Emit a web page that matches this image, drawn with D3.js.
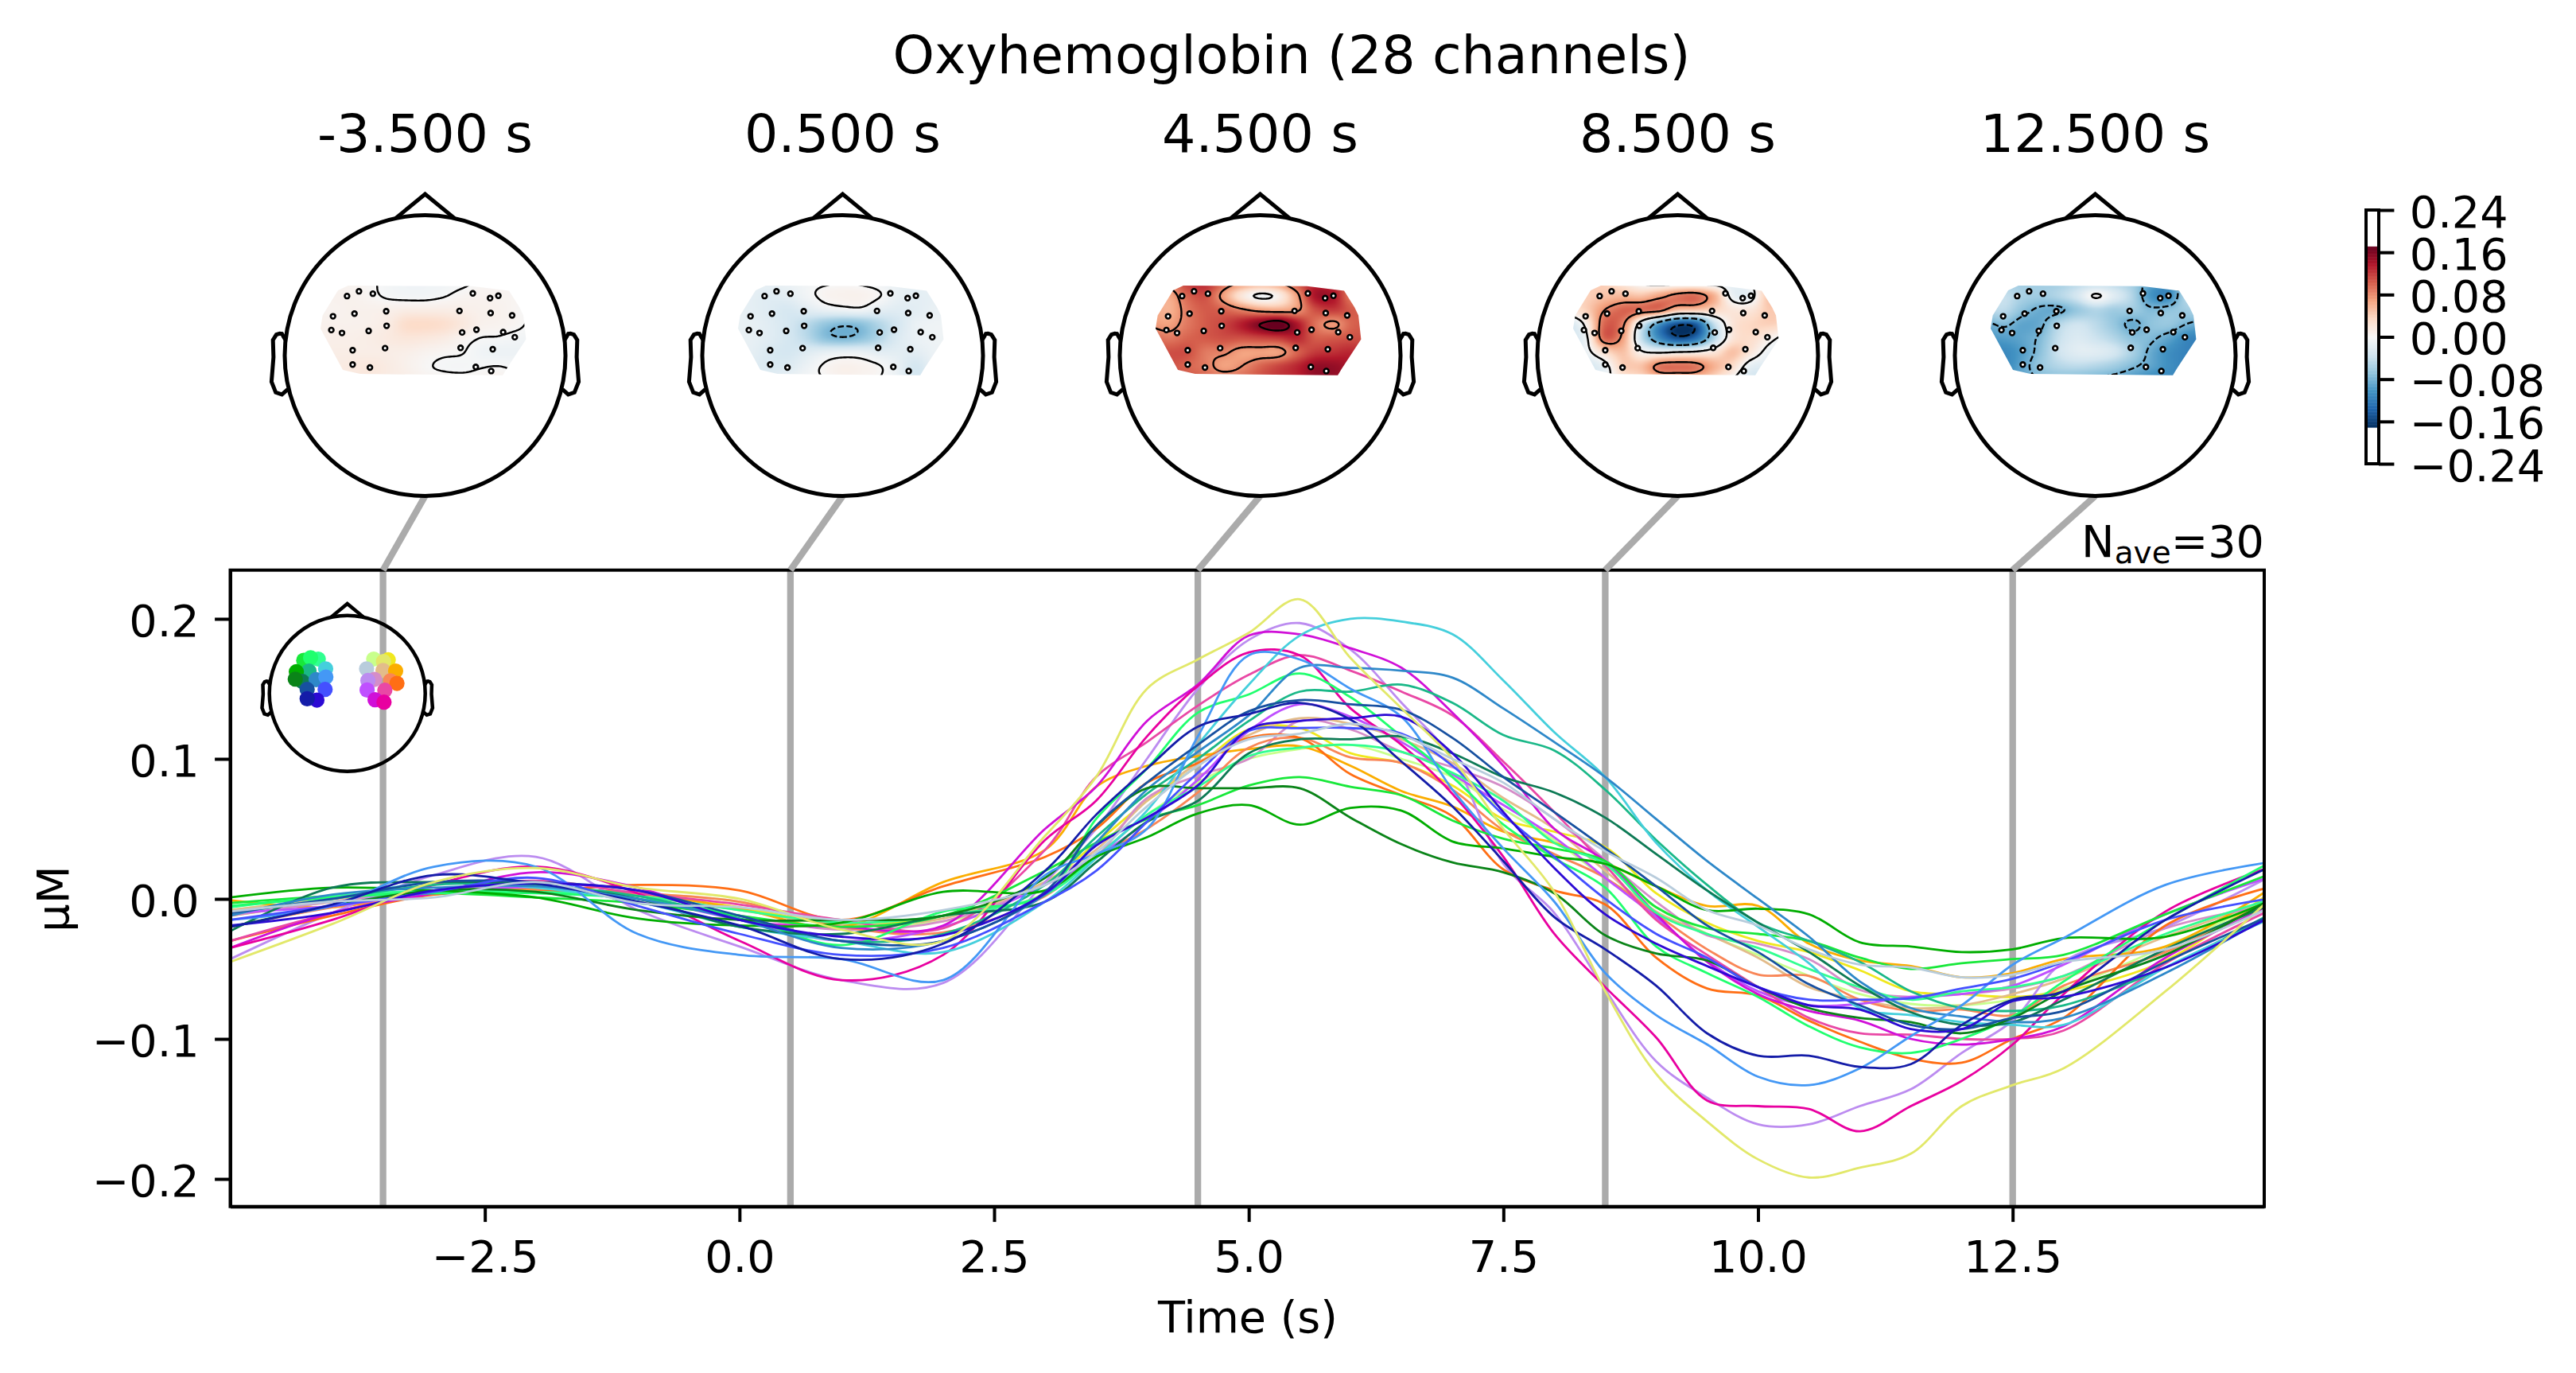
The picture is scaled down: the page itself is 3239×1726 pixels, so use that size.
<!DOCTYPE html>
<html lang="en">
<head>
    <meta charset="UTF-8">
    <title>Oxyhemoglobin (28 channels)</title>
    <script src="https://d3js.org/d3.v7.min.js"></script>
    <style>
        body { margin: 0; background: #fff; }
        text { font-family: "DejaVu Sans"; fill: #000; }
        .tick line, .domain { stroke: #000; stroke-width: 4px; }
    </style>
</head>
<body>
    <script>
        // Sample times of the butterfly traces (s)
        const times = [-5,-4,-3,-2,-1,0,1,2,3,3.5,4,4.5,5,5.5,6,6.5,7,7.5,8,8.5,9,9.5,10,10.5,11,11.5,12,12.5,13,14,15];

        // One array per channel (uM)
        const lightGreen = [-.008,0,.005,.006,.004,-.002,-.018,-.016,.004,.03,.06,.083,.10,.107,.11,.10,.087,.064,.042,.015,-.006,-.025,-.04,-.055,-.068,-.075,-.076,-.072,-.064,-.034,-.002];
        const yellow = [-.012,-.002,.006,.007,.003,-.006,-.018,-.012,.012,.04,.07,.095,.121,.122,.104,.097,.081,.057,.048,.037,.004,-.017,-.03,-.038,-.051,-.066,-.068,-.07,-.066,-.044,.003];
        const khaki = [-.045,-.018,.012,.022,.008,0,-.022,-.03,.045,.087,.15,.171,.19,.214,.172,.136,.10,.05,.005,-.066,-.125,-.159,-.186,-.199,-.192,-.182,-.148,-.133,-.121,-.066,-.002];
        const grayBlue = [-.009,-.002,.001,.012,-.003,-.006,-.015,-.008,.01,.033,.066,.095,.114,.118,.125,.117,.10,.083,.057,.034,.015,-.008,-.019,-.036,-.047,-.049,-.056,-.054,-.045,-.036,-.007];
        const tan = [-.008,0,.006,.008,.002,-.008,-.018,-.014,.012,.035,.07,.097,.117,.129,.125,.114,.097,.072,.05,.02,-.009,-.025,-.042,-.063,-.072,-.078,-.076,-.068,-.057,-.027,-.002];
        const orange = [-.001,-.006,.005,.007,.004,-.007,-.02,.012,.035,.08,.095,.102,.107,.109,.095,.077,.066,.048,.04,.026,.009,-.005,-.005,-.032,-.044,-.048,-.056,-.053,-.043,-.034,.006];
        const purplePink = [-.012,-.002,.006,.009,-.002,-.012,-.022,-.016,.01,.03,.072,.088,.10,.127,.121,.105,.094,.08,.057,.028,-.002,-.026,-.032,-.043,-.065,-.07,-.068,-.064,-.055,-.021,-.005];
        const salmon = [-.02,-.006,.004,.006,.004,-.002,-.02,-.024,.002,.03,.05,.076,.108,.115,.101,.097,.078,.049,.032,.015,-.011,-.036,-.054,-.055,-.072,-.08,-.079,-.083,-.062,-.038,-.002];
        const lavender = [-.043,-.01,.017,.03,-.008,-.034,-.058,-.06,.012,.05,.10,.15,.185,.197,.178,.14,.10,.025,-.01,-.065,-.116,-.142,-.161,-.161,-.148,-.136,-.11,-.087,-.045,-.02,.015];
        const orangeRed = [-.03,-.012,.003,.005,.01,.006,-.015,.009,.03,.05,.083,.097,.115,.115,.089,.074,.059,.021,.006,-.004,-.042,-.064,-.069,-.087,-.102,-.114,-.117,-.1,-.085,-.019,.008];
        const violet = [-.01,-.005,.004,.008,0,-.015,-.03,-.02,.01,.03,.055,.085,.12,.139,.13,.112,.089,.067,.044,.015,-.013,-.044,-.066,-.076,-.075,-.07,-.068,-.062,-.047,-.011,.015];
        const pink = [-.03,-.01,.005,.013,.004,-.004,-.015,-.021,.035,.087,.112,.138,.16,.174,.163,.148,.131,.098,.062,.024,-.015,-.04,-.063,-.085,-.096,-.097,-.1,-.1,-.094,-.046,-.009];
        const magenta = [-.035,-.01,.004,.019,.008,-.015,-.02,-.019,.05,.08,.127,.153,.188,.189,.179,.165,.133,.095,.05,.027,-.011,-.045,-.068,-.08,-.087,-.1,-.104,-.1,-.091,-.042,-.006];
        const hotPink = [-.035,-.015,.01,.023,.004,-.03,-.058,-.04,.042,.07,.116,.152,.176,.174,.136,.11,.075,.03,-.025,-.063,-.099,-.144,-.148,-.15,-.166,-.148,-.13,-.104,-.068,-.009,.022];
        const green = [-.003,.002,.004,.001,-.003,-.012,-.02,-.012,.02,.04,.057,.067,.081,.087,.08,.074,.056,.043,.036,.027,-.006,-.021,-.025,-.03,-.042,-.05,-.046,-.043,-.04,-.011,.017];
        const springGreen = [-.006,.002,.006,.005,.002,-.008,-.017,-.012,.003,.03,.06,.08,.102,.108,.11,.105,.09,.07,.04,.025,-.01,-.025,-.035,-.05,-.063,-.072,-.066,-.063,-.055,-.025,-.001];
        const brightGreen = [-.005,.001,.004,.004,0,-.012,-.033,-.009,.003,.057,.093,.133,.146,.161,.144,.116,.087,.053,.029,.008,-.034,-.053,-.07,-.091,-.106,-.11,-.10,-.084,-.059,-.015,.025];
        const teal = [-.01,0,.01,.01,.002,-.014,-.03,-.025,.01,.044,.075,.10,.127,.148,.148,.153,.14,.117,.106,.078,.042,.01,-.017,-.03,-.045,-.066,-.078,-.08,-.076,-.049,-.012];
        const cyan = [-.01,0,.012,.008,-.002,-.02,-.03,-.038,-.002,.029,.063,.11,.153,.188,.2,.198,.189,.156,.119,.087,.04,.006,-.02,-.046,-.078,-.083,-.088,-.09,-.09,-.049,-.015];
        const greenDark = [.001,.008,.006,.001,-.014,-.019,-.017,.005,.006,.03,.044,.061,.067,.053,.065,.063,.041,.036,.03,.025,.009,-.008,-.007,-.011,-.031,-.034,-.038,-.036,-.028,-.027,-.002];
        const darkTeal = [-.023,.008,.012,.01,0,-.02,-.025,-.012,-.002,.026,.055,.07,.104,.114,.114,.116,.104,.087,.076,.058,.032,.006,-.017,-.038,-.062,-.081,-.09,-.088,-.072,-.036,-.005];
        const blue = [-.012,.003,.008,.009,0,-.015,-.035,-.03,.003,.04,.078,.105,.131,.165,.165,.163,.158,.136,.112,.087,.057,.027,0,-.027,-.059,-.078,-.084,-.088,-.085,-.053,-.013];
        const darkGreen = [-.02,-.005,.006,.005,-.008,-.015,-.015,-.012,.015,.052,.079,.079,.079,.079,.058,.039,.026,.019,.004,-.026,-.039,-.044,-.063,-.078,-.085,-.088,-.096,-.085,-.066,-.04,-.002];
        const skyBlue = [-.015,-.005,.023,.023,-.025,-.04,-.043,-.058,.017,.032,.05,.116,.174,.171,.15,.13,.078,.036,-.002,-.053,-.083,-.104,-.127,-.133,-.121,-.098,-.076,-.047,-.028,.01,.026];
        const navy = [-.01,0,.012,.012,.006,-.012,-.03,-.03,.005,.052,.083,.11,.134,.142,.139,.135,.115,.087,.062,.036,.009,-.019,-.038,-.061,-.076,-.09,-.093,-.085,-.08,-.045,-.013];
        const blueViolet = [-.015,-.005,.005,.015,-.005,-.025,-.04,-.035,-.002,.02,.055,.09,.12,.122,.122,.118,.095,.06,.03,0,-.025,-.042,-.063,-.072,-.072,-.071,-.064,-.057,-.045,-.015,0];
        const indigo = [-.019,-.01,.006,.011,.006,-.015,-.027,-.026,.004,.038,.058,.081,.121,.127,.129,.13,.104,.062,.022,-.011,-.032,-.048,-.063,-.076,-.079,-.093,-.093,-.073,-.07,-.049,-.014];
        const darkBlue = [-.02,-.004,.017,.011,-.002,-.019,-.043,-.032,.02,.06,.093,.123,.132,.14,.128,.098,.066,.027,-.013,-.036,-.062,-.096,-.112,-.112,-.12,-.118,-.09,-.072,-.066,-.015,.022];

        const series = [lightGreen, yellow, khaki, grayBlue, tan, orange, purplePink, salmon, lavender, orangeRed, violet, pink, magenta, hotPink,
            green, springGreen, brightGreen, teal, cyan, greenDark, darkTeal, blue, darkGreen, skyBlue, navy, blueViolet, indigo, darkBlue];
        const seriesColors = ["#c8ff8c", "#f0e81e", "#e2e86a", "#b8ccdc", "#e3bc8a", "#fbad00", "#d58dc8", "#f98657", "#bc8cf0", "#ff6e14", "#bf50ff", "#e948a5", "#d010d8", "#e800a0",
            "#18e83a", "#30ff90", "#20ff6e", "#1ab888", "#45cfdc", "#00ad00", "#0d7a55", "#2e88c9", "#0a8418", "#4498f5", "#1750a0", "#4450ff", "#2c0ad4", "#141ca8"];

        // Channel positions on the small colour key head (head radius = 1), same order as series
        const keyX = [.339,.525,.464,.247,.458,.620,.349,.553,.264,.637,.254,.481,.356,.471,-.559,-.373,-.471,-.492,-.278,-.654,-.576,-.4,-.668,-.275,-.515,-.285,-.39,-.515];
        const keyY = [.441,.431,.410,.315,.295,.288,.180,.163,.166,.129,.044,.041,-.081,-.112,.424,.441,.458,.288,.315,.278,.153,.176,.183,.210,.051,.051,-.085,-.068];

        // Topomaps
        const topoTimes = [-3.5, 0.5, 4.5, 8.5, 12.5];
        const topoLabels = ["-3.500 s", "0.500 s", "4.500 s", "8.500 s", "12.500 s"];
        const sensorX = [-.556,-.471,-.372,-.656,-.503,-.277,-.668,-.592,-.402,-.274,-.516,-.285,-.516,-.393,.340,.463,.522,.245,.467,.620,.264,.366,.556,.639,.253,.482,.361,.471];
        const sensorY = [.424,.458,.441,.280,.299,.316,.182,.161,.176,.212,.038,.053,-.064,-.085,.443,.409,.426,.318,.303,.286,.165,.184,.167,.131,.055,.045,-.081,-.110];
        const hullX = [-.62,-.547,.333,.598,.673,.70,.719,.582,.553,-.463,-.586,-.745,-.730];
        const hullY = [.464,.498,.494,.462,.343,.286,.116,-.092,-.14,-.131,-.102,.192,.286];

        // Field values at a coarse grid over the sensor area (uM), one row per gridY
        const gridX = [-.78,-.65,-.52,-.39,-.26,-.13,0,.13,.26,.39,.52,.65,.78];
        const gridY = [.525,.425,.325,.225,.125,.025,-.075,-.175];
        const fieldA = [
            [.004,.004,.004,.002,-.004,-.007,-.007,-.006,-.003,.002,.004,.004,.004],
            [.007,.007,.007,.003,-.002,-.004,-.004,-.001,.004,.006,.005,.004,.003],
            [.006,.006,.008,.008,.009,.012,.012,.012,.010,.008,.007,.003,-.002],
            [.008,.008,.008,.009,.014,.03,.032,.028,.018,.008,.006,.003,-.003],
            [.008,.01,.01,.012,.016,.02,.018,.014,.006,0,-.001,-.004,-.006],
            [.01,.012,.012,.012,.012,.01,.006,.003,.001,-.006,-.009,-.009,-.009],
            [.01,.014,.016,.018,.014,.008,.002,-.002,-.003,-.001,0,-.002,-.002],
            [.016,.018,.016,.018,.014,.012,.006,.005,.004,.004,.006,.002,.002]
        ];
        const fieldB = [
            [-.012,-.012,-.012,-.01,-.005,-.002,0,-.002,-.006,-.012,-.015,-.012,-.012],
            [-.014,-.016,-.02,-.016,-.006,.004,.007,.007,.001,-.012,-.016,-.015,-.012],
            [-.012,-.016,-.022,-.028,-.02,-.012,-.008,-.006,-.016,-.02,-.018,-.012,-.012],
            [-.012,-.014,-.02,-.03,-.045,-.065,-.075,-.07,-.05,-.03,-.012,-.008,-.008],
            [-.012,-.014,-.02,-.03,-.045,-.07,-.078,-.07,-.05,-.025,-.012,-.008,-.008],
            [-.012,-.016,-.025,-.03,-.022,-.015,-.012,-.012,-.018,-.018,-.018,-.01,-.01],
            [-.018,-.02,-.025,-.022,-.01,.002,.008,.006,.001,-.012,-.03,-.012,-.012],
            [-.02,-.02,-.018,-.012,-.004,0,.006,.004,0,-.012,-.03,-.02,-.015]
        ];
        const fieldC = [
            [.09,.09,.12,.13,.10,.08,.07,.08,.11,.13,.12,.10,.10],
            [.075,.065,.10,.11,.07,.02,-.005,.01,.07,.14,.14,.09,.10],
            [.07,.06,.09,.105,.10,.085,.07,.065,.075,.11,.12,.105,.10],
            [.075,.07,.09,.105,.115,.135,.16,.175,.14,.095,.075,.10,.105],
            [.10,.09,.10,.105,.11,.11,.115,.12,.13,.105,.105,.11,.11],
            [.11,.11,.11,.09,.085,.07,.07,.07,.10,.12,.125,.13,.12],
            [.11,.11,.10,.09,.07,.08,.10,.115,.13,.15,.15,.14,.13],
            [.11,.11,.11,.10,.10,.10,.11,.12,.13,.15,.15,.14,.13]
        ];
        const fieldD = [
            [.04,.04,.04,.02,-.005,-.015,-.015,-.015,-.015,-.015,0,.04,.05],
            [.04,.04,.05,.055,.05,.07,.09,.095,.06,-.01,-.01,.05,.05],
            [.02,.04,.08,.10,.095,.09,.05,.045,.035,.02,.02,.045,.04],
            [-.03,.01,.10,.085,-.02,-.10,-.15,-.14,-.04,.02,.035,.04,.035],
            [-.03,-.005,.10,.07,-.04,-.11,-.15,-.13,-.05,.02,.03,.01,-.01],
            [-.03,-.01,.03,.05,.005,-.005,0,.005,.02,.05,.02,-.01,-.02],
            [-.03,-.03,-.01,.04,.05,.09,.095,.09,.06,.03,-.015,-.02,-.02],
            [-.03,-.03,-.01,.02,.03,.05,.05,.05,.03,0,-.03,-.03,-.03]
        ];
        const fieldE = [
            [-.06,-.06,-.06,-.06,-.06,-.05,-.05,-.05,-.06,-.09,-.10,-.06,-.06],
            [-.05,-.04,-.055,-.06,-.05,-.03,.003,-.02,-.05,-.10,-.11,-.05,-.04],
            [-.05,-.045,-.07,-.085,-.085,-.065,-.05,-.06,-.06,-.075,-.07,-.06,-.05],
            [-.085,-.075,-.09,-.085,-.05,-.035,-.045,-.065,-.085,-.07,-.065,-.08,-.09],
            [-.10,-.095,-.09,-.075,-.04,-.025,-.035,-.05,-.07,-.075,-.09,-.11,-.115],
            [-.11,-.11,-.095,-.07,-.035,-.02,-.02,-.03,-.055,-.085,-.105,-.115,-.115],
            [-.11,-.11,-.09,-.065,-.05,-.045,-.05,-.06,-.075,-.09,-.105,-.115,-.115],
            [-.10,-.10,-.09,-.08,-.075,-.08,-.085,-.09,-.10,-.11,-.11,-.11,-.11]
        ];
        const fields = [fieldA, fieldB, fieldC, fieldD, fieldE];
        const contourLevels = [-.16, -.08, 0, .08, .16];
        const vLim = 0.171;
        const colorbarTicks = [-.24, -.16, -.08, 0, .08, .16, .24];

        // Head outline in head units (MNE ear shape)
        const earX = [.497,.510,.518,.5299,.5419,.54,.547,.532,.510,.489].map(d => d * 2);
        const earY = [.0555,.0775,.0783,.0746,.0555,-.0055,-.0932,-.1313,-.1384,-.1199].map(d => d * 2);
        const noseX = [-.2094, 0, .2094];
        const noseY = [.9778, 1.15, .9778];

        // Page
        const width = 3239, height = 1726;
        const svg = d3.select("body").append("svg")
            .attr("width", width)
            .attr("height", height)
            .style("display", "block");

        const plotLeft = 289.5, plotRight = 2847, plotTop = 716.7, plotBottom = 1516.7;
        const x = d3.scaleLinear().domain([-5, 14.97]).range([plotLeft, plotRight]);
        const y = d3.scaleLinear().domain([-.2197, .2348]).range([plotBottom, plotTop]);
        const color = d3.scaleSequential(d3.piecewise(d3.interpolateRgb, [...d3.schemeRdBu[11]].reverse()))
            .domain([-vLim, vLim]).clamp(true);

        const headCx = [534.5, 1059.5, 1584.5, 2109.5, 2634.5];
        const headCy = 447, headR = 176.5;
        const fontLabel = 55.6, fontTitle = 66.7;

        // Draws the nose, the ears and the circle of one head
        function drawHead(g, hx, hy, lw) {
            const outline = d3.line().x(d => hx(d[0])).y(d => hy(d[1]));
            const paths = [
                d3.zip(noseX, noseY),
                d3.zip(earX, earY),
                d3.zip(earX.map(d => -d), earY)
            ];
            g.selectAll("path.outline").data(paths).join("path")
                .attr("class", "outline")
                .attr("d", outline)
                .attr("fill", "none")
                .attr("stroke", "#000")
                .attr("stroke-width", lw);
            g.append("ellipse")
                .attr("cx", hx(0)).attr("cy", hy(0))
                .attr("rx", hx(1) - hx(0)).attr("ry", hy(-1) - hy(0))
                .attr("fill", "none")
                .attr("stroke", "#000")
                .attr("stroke-width", lw);
        }

        // Catmull-Rom interpolation of the coarse grid, only used for the picture
        function cubic(a, b, c, d, t) {
            return b + 0.5 * t * (c - a + t * (2 * a - 5 * b + 4 * c - d + t * (3 * (b - c) + d - a)));
        }
        function upsample(field, k) {
            const rows = field.length, cols = field[0].length;
            const nx = (cols - 1) * k + 1, ny = (rows - 1) * k + 1;
            const at = (r, c) => field[Math.max(0, Math.min(rows - 1, r))][Math.max(0, Math.min(cols - 1, c))];
            const out = new Float64Array(nx * ny);
            for (let j = 0; j < ny; j++) {
                const r = Math.min(Math.floor(j / k), rows - 2), v = j / k - r;
                for (let i = 0; i < nx; i++) {
                    const c = Math.min(Math.floor(i / k), cols - 2), u = i / k - c;
                    const w = [-1, 0, 1, 2].map(dr => cubic(at(r + dr, c - 1), at(r + dr, c), at(r + dr, c + 1), at(r + dr, c + 2), u));
                    out[j * nx + i] = cubic(w[0], w[1], w[2], w[3], v);
                }
            }
            return { values: out, nx, ny };
        }

        const k = 12;
        const defs = svg.append("defs");

        // Gray time markers go under the traces
        const plot = svg.append("g");
        plot.selectAll("line.marker").data(topoTimes).join("line")
            .attr("class", "marker")
            .attr("x1", d => x(d)).attr("x2", d => x(d))
            .attr("y1", plotBottom).attr("y2", plotTop)
            .attr("stroke", "#ababab")
            .attr("stroke-width", 8.3);

        // Butterfly traces
        defs.append("clipPath").attr("id", "plot-clip").append("rect")
            .attr("x", plotLeft).attr("y", plotTop).attr("width", plotRight - plotLeft).attr("height", plotBottom - plotTop);
        const line = d3.line()
            .x((d, i) => x(times[i]))
            .y(d => y(d))
            .curve(d3.curveCatmullRom.alpha(0.5));
        const traces = plot.append("g").attr("clip-path", "url(#plot-clip)");
        traces.selectAll("path").data(series).join("path")
            .attr("d", line)
            .attr("fill", "none")
            .attr("stroke", (d, i) => seriesColors[i])
            .attr("stroke-width", 2.8);
        traces.selectAll("path").filter(d => d === grayBlue || d === khaki).raise();

        // Axes
        const xAxis = d3.axisBottom(x)
            .tickValues([-2.5, 0, 2.5, 5, 7.5, 10, 12.5])
            .tickFormat(d3.format(".1f"))
            .tickSize(19.4).tickSizeOuter(0).tickPadding(23.5);
        const yAxis = d3.axisLeft(y)
            .tickValues([-.2, -.1, 0, .1, .2])
            .tickFormat(d3.format(".1f"))
            .tickSize(19.4).tickSizeOuter(0).tickPadding(19.4);
        svg.append("g").attr("transform", "translate(0," + plotBottom + ")").call(xAxis)
            .call(g => g.selectAll("text").attr("font-size", fontLabel).attr("font-family", "DejaVu Sans"));
        svg.append("g").attr("transform", "translate(" + plotLeft + ",0)").call(yAxis)
            .call(g => g.selectAll("text").attr("font-size", fontLabel).attr("font-family", "DejaVu Sans").attr("dy", ".38em"));
        svg.append("rect")
            .attr("x", plotLeft).attr("y", plotTop).attr("width", plotRight - plotLeft).attr("height", plotBottom - plotTop)
            .attr("fill", "none").attr("stroke", "#000").attr("stroke-width", 4);

        svg.append("text").attr("x", 1569).attr("y", 1675).attr("text-anchor", "middle")
            .attr("font-size", fontLabel).text("Time (s)");
        svg.append("text").attr("transform", "translate(86,1130) rotate(-90)").attr("text-anchor", "middle")
            .attr("font-size", fontLabel).text("µM");

        // N_ave label
        const nave = svg.append("text").attr("x", 2847).attr("y", 700).attr("text-anchor", "end").attr("font-size", fontLabel);
        nave.append("tspan").text("N");
        nave.append("tspan").attr("font-size", 39).attr("dy", 8).text("ave");
        nave.append("tspan").attr("dy", -8).text("=30");

        // Connection lines from the heads to the time markers
        svg.selectAll("line.link").data(topoTimes).join("line")
            .attr("class", "link")
            .attr("x1", (d, i) => headCx[i]).attr("y1", headCy + headR)
            .attr("x2", d => x(d)).attr("y2", plotTop)
            .attr("stroke", "#ababab")
            .attr("stroke-width", 8.3);

        // Colour key head
        const keyHead = svg.append("g");
        const keyHx = d3.scaleLinear().domain([-1, 1]).range([436.7 - 98, 436.7 + 98]);
        const keyHy = d3.scaleLinear().domain([-1, 1]).range([871.7 + 98, 871.7 - 98]);
        drawHead(keyHead, keyHx, keyHy, 4.5);
        keyHead.selectAll("circle").data(seriesColors).join("circle")
            .attr("cx", (d, i) => keyHx(keyX[i]))
            .attr("cy", (d, i) => keyHy(keyY[i]))
            .attr("r", 9.6)
            .attr("fill", d => d);

        // Topomaps
        topoTimes.forEach((t, m) => {
            const hx = d3.scaleLinear().domain([-1, 1]).range([headCx[m] - headR, headCx[m] + headR]);
            const hy = d3.scaleLinear().domain([-1, 1]).range([headCy + headR, headCy - headR]);
            const g = svg.append("g");

            defs.append("clipPath").attr("id", "hull-" + m).append("polygon")
                .attr("points", d3.zip(hullX, hullY).map(p => hx(p[0]) + "," + hy(p[1])).join(" "));
            const area = g.append("g").attr("clip-path", "url(#hull-" + m + ")");

            // Colours of the field on a canvas, placed in the svg as an image
            const fine = upsample(fields[m], k);
            const canvas = document.createElement("canvas");
            canvas.width = fine.nx;
            canvas.height = fine.ny;
            const ctx = canvas.getContext("2d");
            const img = ctx.createImageData(fine.nx, fine.ny);
            fine.values.forEach((v, i) => {
                const c = d3.rgb(color(v));
                img.data.set([c.r, c.g, c.b, 255], i * 4);
            });
            ctx.putImageData(img, 0, 0);
            const stepX = (gridX[1] - gridX[0]) / k / 2, stepY = (gridY[0] - gridY[1]) / k / 2;
            area.append("image")
                .attr("href", canvas.toDataURL())
                .attr("x", hx(gridX[0] - stepX))
                .attr("y", hy(gridY[0] + stepY))
                .attr("width", hx(gridX[gridX.length - 1] + stepX) - hx(gridX[0] - stepX))
                .attr("height", hy(gridY[gridY.length - 1] - stepY) - hy(gridY[0] + stepY))
                .attr("preserveAspectRatio", "none");

            // Contour lines from the same field, dashed below zero
            const fx = d3.scaleLinear().domain([0, fine.nx - 1]).range([gridX[0], gridX[gridX.length - 1]]);
            const fy = d3.scaleLinear().domain([0, fine.ny - 1]).range([gridY[0], gridY[gridY.length - 1]]);
            const toHead = d3.geoTransform({
                point(px, py) { this.stream.point(hx(fx(px - 0.5)), hy(fy(py - 0.5))); }
            });
            const contours = d3.contours().size([fine.nx, fine.ny]).thresholds(contourLevels)(fine.values);
            area.selectAll("path").data(contours).join("path")
                .attr("d", d3.geoPath(toHead))
                .attr("fill", "none")
                .attr("stroke", "#000")
                .attr("stroke-width", 2.4)
                .attr("stroke-dasharray", d => d.value < 0 ? "7.7 3.3" : null);

            // Sensors
            g.selectAll("circle.sensor").data(sensorX).join("circle")
                .attr("class", "sensor")
                .attr("cx", d => hx(d))
                .attr("cy", (d, i) => hy(sensorY[i]))
                .attr("r", 2.9)
                .attr("fill", "#fff")
                .attr("stroke", "#000")
                .attr("stroke-width", 2.6);

            const head = g.append("g");
            drawHead(head, hx, hy, 5);

            g.append("text")
                .attr("x", headCx[m]).attr("y", 191)
                .attr("text-anchor", "middle")
                .attr("font-size", fontTitle)
                .text(topoLabels[m]);
        });

        svg.append("text").attr("x", 1624).attr("y", 92).attr("text-anchor", "middle")
            .attr("font-size", fontTitle).text("Oxyhemoglobin (28 channels)");

        // Colorbar
        const cbY = d3.scaleLinear().domain([-.24, .24]).range([583, 264]);
        const cbSteps = d3.range(-.171, .171, .002);
        svg.selectAll("rect.cb").data(cbSteps).join("rect")
            .attr("class", "cb")
            .attr("x", 2975).attr("width", 16)
            .attr("y", d => cbY(d + .002))
            .attr("height", d => cbY(d) - cbY(d + .002) + 0.5)
            .attr("fill", d => color(d + .001));
        svg.append("rect").attr("x", 2975).attr("y", 264).attr("width", 16).attr("height", 319)
            .attr("fill", "none").attr("stroke", "#000").attr("stroke-width", 4);
        const cbAxis = d3.axisRight(cbY)
            .tickValues(colorbarTicks)
            .tickFormat(d3.format(".2f"))
            .tickSize(19.4).tickSizeOuter(0).tickPadding(19.4);
        svg.append("g").attr("transform", "translate(2991,0)").call(cbAxis)
            .call(g => g.select(".domain").remove())
            .call(g => g.selectAll("text").attr("font-size", fontLabel).attr("font-family", "DejaVu Sans").attr("dy", ".38em"));
    </script>
</body>
</html>
